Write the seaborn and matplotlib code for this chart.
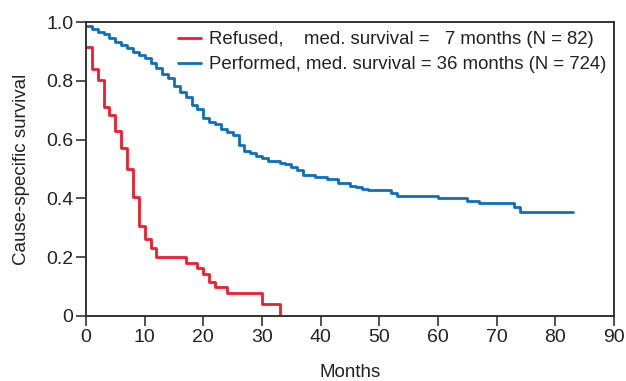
import numpy as np
import pandas as pd
import matplotlib
matplotlib.use("Agg")
import matplotlib.pyplot as plt
import seaborn as sns

# ---- data ----
refused_months = [0, 1, 2, 3, 4, 5, 6, 7, 8, 9, 10, 11, 12, 17, 19, 20, 21, 22, 24, 30, 33]
refused_surv = [0.916, 0.839, 0.803, 0.712, 0.684, 0.630, 0.572, 0.499, 0.404, 0.307,
                0.262, 0.230, 0.200, 0.181, 0.162, 0.142, 0.117, 0.100, 0.079, 0.041, 0.0]

performed_months = [0, 1, 2, 3, 4, 5, 6, 7, 8, 9, 10, 11, 12, 13, 14, 15, 16, 17, 18, 19,
                    20, 21, 22, 23, 24, 25, 26, 27, 28, 29, 30, 31, 33, 34, 35, 36, 37, 39,
                    41, 43, 45, 46, 47, 48, 52, 53, 60, 65, 67, 73, 74, 83]
performed_surv = [0.987, 0.976, 0.965, 0.958, 0.944, 0.933, 0.922, 0.910, 0.899, 0.888,
                  0.877, 0.862, 0.845, 0.822, 0.808, 0.783, 0.763, 0.745, 0.718, 0.703,
                  0.675, 0.659, 0.652, 0.635, 0.625, 0.616, 0.582, 0.561, 0.553, 0.544,
                  0.539, 0.528, 0.521, 0.516, 0.508, 0.496, 0.479, 0.472, 0.466, 0.451,
                  0.443, 0.438, 0.432, 0.429, 0.420, 0.408, 0.400, 0.391, 0.383, 0.372,
                  0.354, 0.354]

label_refused = "Refused,    med. survival =   7 months (N = 82)"
label_performed = "Performed, med. survival = 36 months (N = 724)"

x_ticks = [0, 10, 20, 30, 40, 50, 60, 70, 80, 90]
y_ticks = [0, 0.2, 0.4, 0.6, 0.8, 1.0]
y_ticklabels = ["0", "0.2", "0.4", "0.6", "0.8", "1.0"]

# ---- build table ----
df = pd.concat([
    pd.DataFrame({"Months": refused_months, "surv": refused_surv, "group": label_refused}),
    pd.DataFrame({"Months": performed_months, "surv": performed_surv, "group": label_performed}),
], ignore_index=True)

sns.set_style("ticks")
plt.rcParams["font.family"] = ["Liberation Sans", "DejaVu Sans"]

fig = plt.figure(figsize=(6.26, 3.81), dpi=100)
ax = fig.add_axes([86 / 626, 1 - 316 / 381, (614 - 86) / 626, (316 - 22) / 381])

palette = {label_refused: "#ee1c2e", label_performed: "#0a70bd"}
sns.lineplot(data=df, x="Months", y="surv", hue="group", palette=palette,
             drawstyle="steps-post", estimator=None, sort=False, linewidth=2.0, ax=ax)

ax.set_xlim(0, 90)
ax.set_ylim(0, 1.0)
ax.set_xticks(x_ticks)
ax.set_xticklabels([str(t) for t in x_ticks])
ax.set_yticks(y_ticks)
ax.set_yticklabels(y_ticklabels)
ax.set_xlabel("Months", fontsize=13.5, color="#222222", labelpad=13)
ax.set_ylabel("Cause-specific survival", fontsize=13.5, color="#222222", labelpad=12)

for s in ax.spines.values():
    s.set_visible(True)
    s.set_linewidth(1.4)
    s.set_color("#333333")
ax.tick_params(axis="both", direction="out", length=7, width=1.2, color="#333333",
               labelsize=14, labelcolor="#222222", pad=2)

leg = ax.legend(loc="upper right", frameon=False, fontsize=13.4, handlelength=1.25,
                handletextpad=0.4, labelspacing=0.42, borderaxespad=0.1,
                bbox_to_anchor=(1.003, 1.0))
for t in leg.get_texts():
    t.set_color("#222222")
for h in leg.get_lines():
    h.set_linewidth(2.0)

fig.savefig("out.png", dpi=100)
